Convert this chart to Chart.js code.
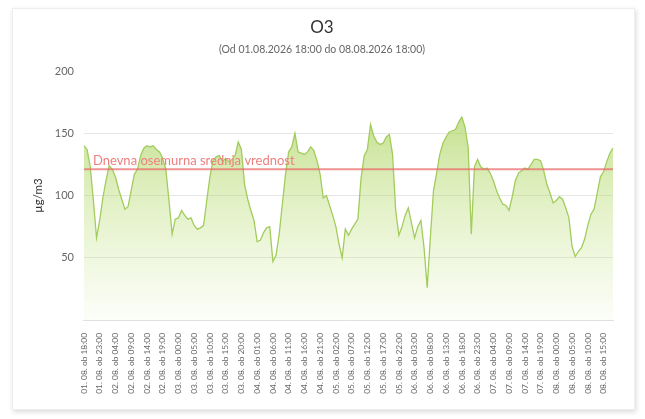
<!DOCTYPE html>
<html>
<head>
<meta charset="utf-8">
<script src="https://cdn.jsdelivr.net/npm/chart.js@4.4.0/dist/chart.umd.min.js"></script>
<style>
  html, body { margin: 0; padding: 0; background: #fff; }
  #card {
    position: absolute; left: 12px; top: 8px; width: 621px; height: 400px;
    background: #fff; border: 1px solid #eee;
    box-shadow: 1px 2px 5px rgba(0,0,0,0.15);
  }
  #card canvas { display: block; }
</style>
</head>
<body>
<div id="card"><canvas id="myChart" width="621" height="400"></canvas></div>
<script>
// setup
const startDay = 1, startHour = 18, hourCount = 169;
const labelStep = 5;
const yTicks = [0, 50, 100, 150, 200];
const avgLabel = 'Dnevna osemurna srednja vrednost';
const avgValue = 121;

// O3 hourly values (µg/m3)
const o3 = [
  140, 137, 123, 96, 66, 80, 98, 112, 124, 121, 115, 105, 97, 89, 91, 104, 117, 121, 132, 138,
  140, 139, 140, 137, 135, 130, 121, 96, 69, 81, 82, 88, 84, 81, 82, 76, 73, 74, 76, 96,
  115, 128, 131, 132, 127, 130, 127, 129, 132, 143, 137, 109, 97, 88, 80, 63, 64, 70, 74, 75,
  47, 52, 69, 93, 117, 135, 139, 150, 135, 134, 133, 135, 139, 136, 128, 117, 98, 100, 92, 84,
  75, 61, 50, 73, 68, 73, 77, 81, 114, 132, 137, 157, 148, 143, 141, 142, 147, 149, 133, 88,
  68, 75, 84, 90, 78, 66, 75, 80, 58, 26, 66, 104, 118, 133, 142, 147, 151, 152, 153, 159,
  163, 155, 139, 69, 123, 129, 123, 121, 122, 118, 112, 104, 98, 93, 92, 88, 99, 112, 118, 120,
  122, 121, 125, 129, 129, 128, 120, 109, 102, 94, 96, 99, 97, 90, 82, 59, 51, 55, 58, 65,
  76, 85, 89, 102, 115, 119, 127, 134, 138
];

// hour labels "01. 08. ob 18:00" ...
const hours = [];
for (let i = 0; i < hourCount; i++) {
  const t = startHour + i;
  const d = startDay + Math.floor(t / 24);
  const h = t % 24;
  hours.push(String(d).padStart(2, '0') + '. 08. ob ' + String(h).padStart(2, '0') + ':00');
}
const avgLine = hours.map(() => avgValue);

const avgText = {
  id: 'avgText',
  afterDatasetsDraw(chart) {
    const c = chart.ctx, area = chart.chartArea;
    const y = chart.scales.y.getPixelForValue(avgValue);
    c.save();
    c.font = '13px Lato';
    c.fillStyle = '#ee7f7f';
    c.textBaseline = 'bottom';
    c.fillText(avgLabel, area.left + 9, y - 2);
    c.restore();
  }
};

const ctx = document.getElementById('myChart');
const myChart = new Chart(ctx, {
  type: 'line',
  data: {
    labels: hours,
    datasets: [{
      label: 'O3',
      data: o3,
      borderColor: '#a2cc5c',
      borderWidth: 1.3,
      pointRadius: 0,
      tension: 0,
      fill: 'origin',
      backgroundColor: (context) => {
        const area = context.chart.chartArea;
        if (!area) return 'rgba(170,210,100,0.3)';
        const g = context.chart.ctx.createLinearGradient(0, area.top, 0, area.bottom);
        g.addColorStop(0, 'rgba(160,205,80,0.8)');
        g.addColorStop(0.5, 'rgba(175,215,95,0.38)');
        g.addColorStop(1, 'rgba(190,225,120,0.05)');
        return g;
      },
      order: 2
    }, {
      label: avgLabel,
      data: avgLine,
      borderColor: 'rgba(232,110,110,0.75)',
      borderWidth: 2,
      pointRadius: 0,
      fill: false,
      order: 1
    }]
  },
  options: {
    responsive: false,
    animation: false,
    layout: { padding: { left: 18, right: 21, top: 4, bottom: 0 } },
    plugins: {
      legend: { display: false },
      tooltip: { enabled: false },
      title: {
        display: true, text: 'O3', color: '#333',
        font: { family: 'Lato', size: 17, weight: 'normal' },
        padding: { top: 4, bottom: 6 }
      },
      subtitle: {
        display: true, text: '(Od 01.08.2026 18:00 do 08.08.2026 18:00)', color: '#666',
        font: { family: 'Lato', size: 10.5 },
        padding: { bottom: 15 }
      }
    },
    scales: {
      x: {
        grid: { display: false },
        border: { color: '#e0e0e0' },
        ticks: {
          autoSkip: false, maxRotation: 90, minRotation: 90,
          color: '#666', font: { family: 'Lato', size: 8.4 }, padding: 5,
          callback: (v, i) => (i % labelStep === 0 ? hours[i] : '')
        },
        afterFit: (s) => { s.height = 89; }
      },
      y: {
        min: yTicks[0], max: yTicks[yTicks.length - 1],
        afterBuildTicks: (s) => { s.ticks = yTicks.map(v => ({ value: v })); },
        grid: {
          drawTicks: false,
          color: (c) => (c.tick.value === 200 || c.tick.value === 0 ? 'rgba(0,0,0,0)' : '#e6e6e6')
        },
        border: { display: false },
        ticks: {
          color: '#666', font: { family: 'Lato', size: 11 }, padding: 10,
          callback: (v) => (v === 0 ? '' : v)
        },
        title: {
          display: true, text: 'µg/m3', color: '#333',
          font: { family: 'Lato', size: 11.5 }, padding: 0
        }
      }
    }
  },
  plugins: [avgText]
});
</script>
</body>
</html>
